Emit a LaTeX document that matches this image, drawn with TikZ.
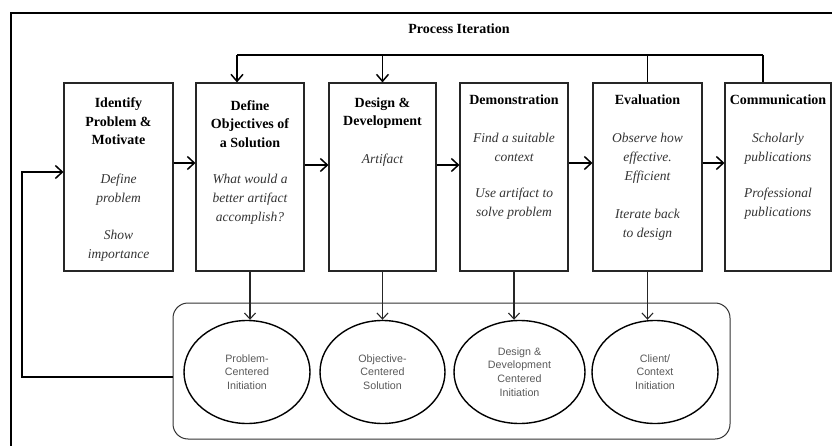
\documentclass[tikz,border=0pt]{standalone}
\usepackage{fontspec}
\setmainfont{Liberation Serif}
\newfontfamily\arialf{Liberation Sans}
\usetikzlibrary{shapes.geometric,arrows.meta}
\begin{document}
\begin{tikzpicture}[x=1pt,y=1pt,
  pbox/.style={draw=black!85,line width=1.1pt,minimum width=108pt,minimum height=188pt,inner sep=0pt},
  head/.style={anchor=north,align=center,inner sep=0pt,font=\fontsize{14}{18.5}\selectfont\bfseries},
  desc/.style={anchor=north,align=center,inner sep=0pt,text=black!80,font=\fontsize{13.5}{19}\selectfont\itshape},
  ell/.style={draw=black,line width=1.4pt,ellipse,minimum width=126pt,minimum height=103pt,inner sep=0pt,align=center,text=black!65,font=\arialf\fontsize{10.7}{13.7}\selectfont},
  harr/.style={line width=1.5pt,-{Straight Barb[length=7pt,width=13pt]}},
  varr/.style={line width=1.1pt,draw=black!85,-{Straight Barb[length=6pt,width=11pt]}},
  iarr/.style={line width=1.5pt,-{Straight Barb[length=7pt,width=12pt]}},
  iline/.style={line width=1.5pt}]
\useasboundingbox (0,0) rectangle (832,-446);
% outer frame
\draw[line width=1.5pt] (11,-460) -- (11,-13) -- (850,-13);
\node[font=\fontsize{14}{16}\selectfont\bfseries] (title) at (459,-29) {Process Iteration};
% boxes
\node[pbox,minimum width=109pt] (b1) at (118.5,-177) {};
\node[pbox] (b2) at (250,-177) {};
\node[pbox,minimum width=107pt] (b3) at (382.5,-177) {};
\node[pbox] (b4) at (514,-177) {};
\node[pbox,minimum width=109pt] (b5) at (647.5,-177) {};
\node[pbox,minimum width=106pt] (b6) at (778,-177) {};
% headings
\node[head] (h1) at (118.5,-97.5) {Identify\\Problem \&\\Motivate};
\node[head] (h2) at (250,-100) {Define\\Objectives of\\a Solution};
\node[head] (h3) at (382.5,-97.5) {Design \&\\Development};
\node[head] (h4) at (514,-94.5) {Demonstration};
\node[head] (h5) at (647.5,-94.5) {Evaluation};
\node[head] (h6) at (778,-94.5) {Communication};
% descriptions
\node[desc] (d1) at (118.5,-173.5) {Define\\problem\\[18pt]Show\\importance};
\node[desc] (d2) at (250,-173.5) {What would a\\better artifact\\accomplish?};
\node[desc] (d3) at (382.5,-153.5) {Artifact};
\node[desc] (d4) at (514,-132.5) {Find a suitable\\context\\[17pt]Use artifact to\\solve problem};
\node[desc] (d5) at (647.5,-132.5) {Observe how\\effective.\\Efficient\\[19pt]Iterate back\\to design};
\node[desc] (d6) at (778,-132.5) {Scholarly\\publications\\[17pt]Professional\\publications};
% container and ellipses
\node[draw=black!80,line width=1pt,rounded corners=15pt,minimum width=557pt,minimum height=136pt,inner sep=0pt] (r) at (451.5,-371) {};
\node[ell] (e1) at (247,-372) {Problem-\\Centered\\Initiation};
\node[ell,minimum width=125pt] (e2) at (382.5,-372) {Objective-\\Centered\\Solution};
\node[ell,minimum width=131pt] (e3) at (519.5,-372) {Design \&\\Development\\Centered\\Initiation};
\node[ell] (e4) at (655,-372) {Client/\\Context\\Initiation};
% horizontal flow
\draw[harr] ([yshift=14pt]b1.east) -- ([yshift=14pt]b2.west);
\draw[harr] ([yshift=12pt]b2.east) -- ([yshift=12pt]b3.west);
\draw[harr] ([yshift=12pt]b3.east) -- ([yshift=12pt]b4.west);
\draw[harr] ([yshift=14pt]b4.east) -- ([yshift=14pt]b5.west);
\draw[harr] ([yshift=14pt]b5.east) -- ([yshift=14pt]b6.west);
% process iteration
\coordinate (itl) at (237,-55);
\coordinate (itr) at (763,-55);
\draw[iline] (itl) -- (itr);
\draw[iarr] (itl) -- (itl |- b2.north);
\draw[iarr] (b3.north |- itl) -- (b3.north);
\draw[iline] (b5.north |- itl) -- (b5.north);
\draw[iline] (itr) -- (itr |- b6.north);
% down arrows
\draw[varr] (b2.south) -- (b2.south |- e1.north);
\draw[varr] (b3.south) -- (b3.south |- e2.north);
\draw[varr] (b4.south) -- (b4.south |- e3.north);
\draw[varr] (b5.south) -- (b5.south |- e4.north);
% feedback loop
\coordinate (lp) at (22,-377);
\draw[harr] (r.west |- lp) -- (lp) |- ([yshift=5pt]b1.west);
\end{tikzpicture}
\end{document}
